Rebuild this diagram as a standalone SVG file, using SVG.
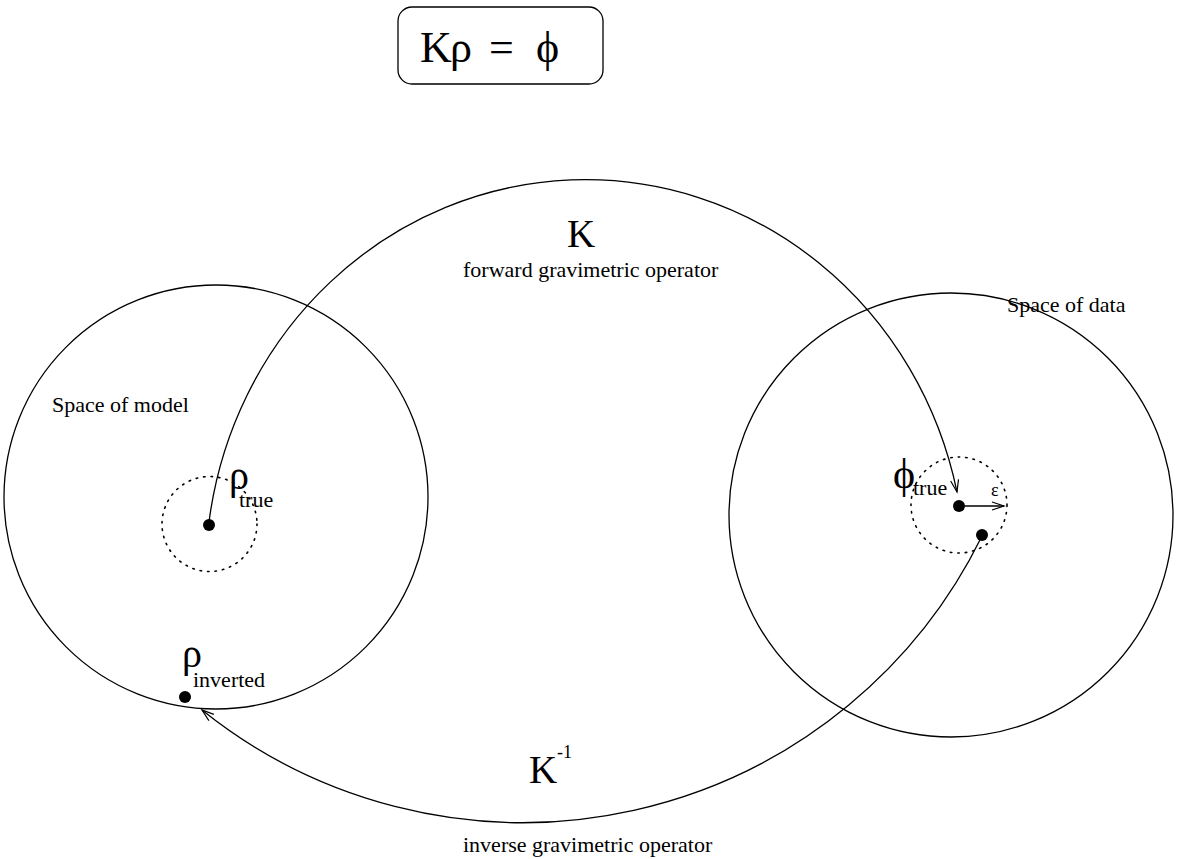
<svg xmlns="http://www.w3.org/2000/svg" width="1179" height="859" viewBox="0 0 1179 859">
<defs>
<style>
.ln{fill:none;stroke:#000;stroke-width:1.3}
.dot{fill:none;stroke:#000;stroke-width:1.6;stroke-dasharray:1.5 6;stroke-linecap:round}
.pt{fill:#000}
.t{font-family:"Liberation Serif","DejaVu Serif",serif;fill:#000}
.s22{font-size:22px}
.g40{font-size:40px}
</style>
<marker id="arr" markerUnits="userSpaceOnUse" markerWidth="16" markerHeight="12" refX="13" refY="5" orient="auto" viewBox="0 0 16 12">
<path d="M1,1 L13,5 L1,9" fill="none" stroke="#000" stroke-width="1.2"/>
</marker>
</defs>
<rect width="1179" height="859" fill="#fff"/>

<g id="equation">
<rect x="398" y="7" width="205" height="77" rx="14" class="ln"/>
<text class="t" font-size="44" y="62"><tspan x="420">K</tspan><tspan x="450">ρ</tspan><tspan x="489">=</tspan><tspan x="536">ϕ</tspan></text>
</g>

<g id="model-space">
<circle cx="216" cy="497" r="212" class="ln"/>
<text x="52" y="412" class="t s22">Space of model</text>
</g>

<g id="data-space">
<circle cx="951" cy="515" r="222" class="ln"/>
<text x="1007" y="312" class="t s22">Space of data</text>
</g>

<g id="rho-true">
<circle cx="209.5" cy="524" r="47.5" class="dot"/>
<circle cx="209" cy="525" r="6" class="pt"/>
<text x="229" y="489" class="t g40">ρ</text>
<text x="239" y="507" class="t s22">true</text>
</g>

<g id="rho-inverted">
<circle cx="185" cy="697" r="6" class="pt"/>
<text x="182" y="667" class="t g40">ρ</text>
<text x="193" y="687" class="t s22">inverted</text>
</g>

<g id="phi-true">
<circle cx="959" cy="505" r="48" class="dot"/>
<circle cx="959" cy="506" r="6" class="pt"/>
<text x="893" y="488" class="t" font-size="42">ϕ</text>
<text x="913" y="495" class="t s22">true</text>
<text x="991" y="496" class="t" font-size="18">ε</text>
</g>

<g id="phi-noisy">
<circle cx="982" cy="535" r="6" class="pt"/>
</g>

<g id="connectors">
<path class="ln" marker-end="url(#arr)" d="M209,522 A379.9,395 0 0,1 957,492"/>
<path class="ln" marker-end="url(#arr)" d="M982,536 A512,512 0 0,1 202,710"/>
<line x1="965" y1="506" x2="1004" y2="506" class="ln" marker-end="url(#arr)"/>
</g>

<g id="operator-labels">
<text x="567" y="247" class="t" font-size="39">K</text>
<text x="463" y="277" class="t s22">forward gravimetric operator</text>
<text x="529" y="783" class="t" font-size="39">K</text>
<text x="557" y="758" class="t" font-size="18">-1</text>
<text x="463" y="852" class="t s22">inverse gravimetric operator</text>
</g>
</svg>
